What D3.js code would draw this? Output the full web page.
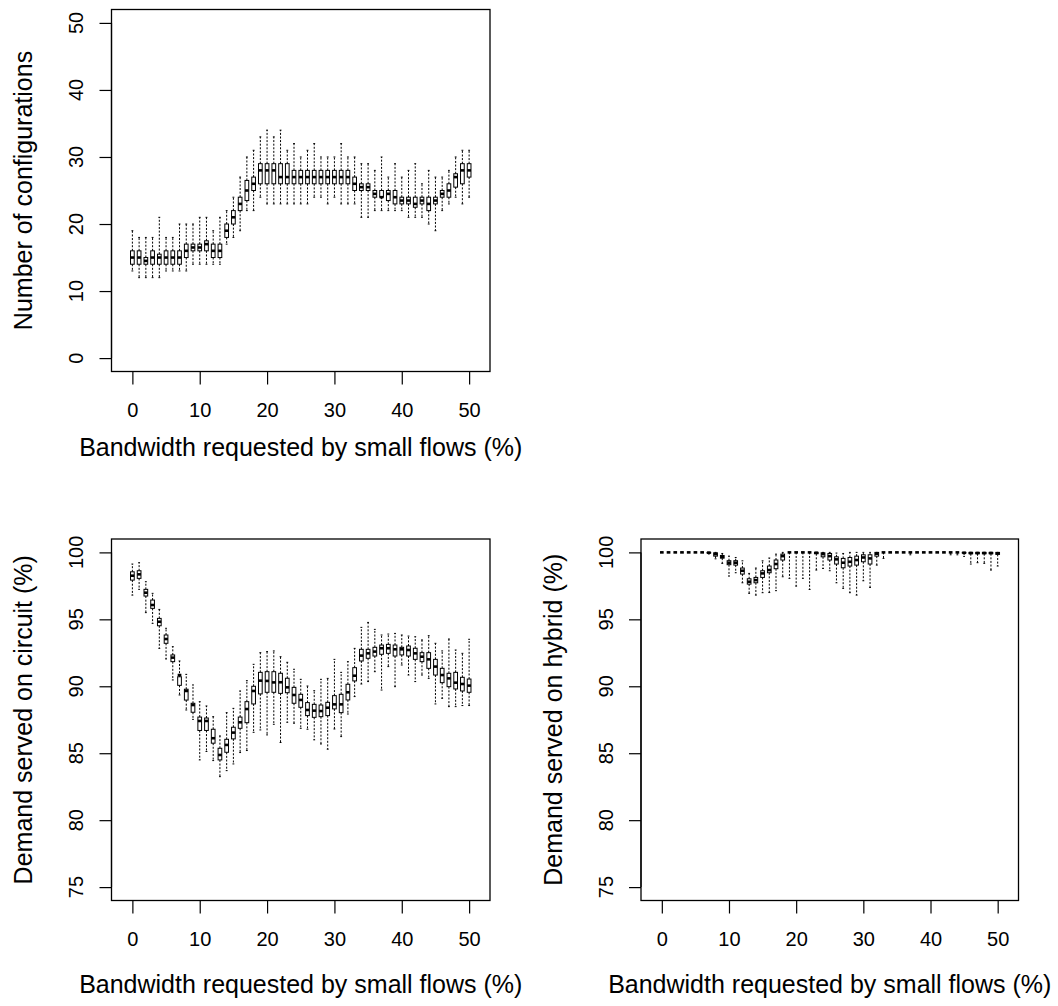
<!DOCTYPE html>
<html>
<head>
<meta charset="utf-8">
<script src="https://cdn.jsdelivr.net/npm/d3@7"></script>
<style>
  html, body { margin: 0; padding: 0; background: #fff; }
  svg { display: block; }
  text { font-family: "Liberation Sans", Arial, Helvetica, sans-serif; fill: #000; }
</style>
</head>
<body>
<svg id="chart" width="1058" height="1006"></svg>
<script>
// ---------- DATA ----------
const bandwidth = [0,1,2,3,4,5,6,7,8,9,10,11,12,13,14,15,16,17,18,19,20,21,22,23,24,25,26,27,28,29,30,31,32,33,34,35,36,37,38,39,40,41,42,43,44,45,46,47,48,49,50];
const xTickLabels = [0, 10, 20, 30, 40, 50];

// Panel 1: Number of configurations
const configMin = [13,12,12,12,12,13,13,13,13,14,14,14,14,14,17,18,19,22,22,24,23,23,23,23,23,23,23,24,24,23,24,23,23,23,21,21,22,22,22,22,22,21,21,21,20,19,22,23,24,23,24];
const configQ1  = [14,14,14,14,14,14,14,14,15,16,16,16,15,15,18,20,22,23.5,25,26,26,26,26,26,26,26,26,26,26,26,26,26,26,25,25,25,24,24,23.5,23,23,23,22.5,23,22,23,24,24,25.5,26,27];
const configMed = [15,15,14.5,15,15,15,15,15,16,16.5,16.5,17,16,16,19,21,23,25,26,28,28,28,27,27,27,27,27,27,27,27,27,27,27,26,25.5,25.5,24.5,24,24.5,24,23.5,23.5,23,23.5,23,23.5,24.5,25,27,28,28];
const configQ3  = [16,16,15,16,15.5,16,16,16,17,17,17,17.5,17,17,20,22,24,26.5,27,29,29,29,29,29,28,28,28,28,28,28,28,28,28,27,26,26,25,25,25,25,24,24,24,24,24,24,25,26,27.5,29,29];
const configMax = [19,18,18,18,21,18,18,20,20,20,21,21,19,21,22,24,27,30,31,33,34,33,34,31,32,30,31,32,30,30,30,32,30,30,29,29,28,30,27,29,27,28,29,26,28,27,27,28,30,31,31];
const configTicks = [0, 10, 20, 30, 40, 50];

// Panel 2: Demand served on circuit (%)
const circuitMin = [96.81,97.24,95.50,94.70,92.83,92.04,90.47,89.35,88.23,87.53,84.50,85.13,84.45,83.25,83.70,84.20,85.05,85.20,86.56,86.74,86.37,87.16,85.80,87.31,87.24,86.86,86.79,86.00,85.69,85.30,86.81,86.24,87.93,89.23,90.17,90.35,91.09,89.72,91.47,89.97,91.59,90.84,90.35,90.84,90.59,88.68,89.10,88.48,88.48,88.56,88.56];
const circuitQ1  = [97.93,98.06,96.74,95.82,94.52,93.21,91.84,90.07,88.97,88.06,86.70,86.70,85.75,84.50,85.07,86.07,86.86,87.28,88.68,89.43,89.55,89.55,89.47,89.52,88.73,88.43,87.81,87.68,87.73,87.81,88.31,88.03,88.98,90.40,91.89,92.09,92.26,92.39,92.46,92.26,92.34,92.26,92.01,91.84,91.34,90.84,90.27,89.97,89.80,89.65,89.55];
const circuitMed = [98.26,98.36,96.99,96.07,94.82,93.53,92.14,90.84,89.65,88.60,87.41,87.41,86.12,84.87,85.62,86.54,87.31,88.30,89.65,90.42,90.40,90.29,90.30,89.92,89.35,88.98,88.23,88.18,88.15,88.40,88.65,88.65,89.55,90.79,92.29,92.46,92.59,92.84,92.84,92.76,92.76,92.71,92.46,92.21,92.01,91.47,90.84,90.59,90.27,90.17,90.05];
const circuitQ3  = [98.55,98.63,97.24,96.44,95.07,93.83,92.34,90.71,89.78,88.73,87.70,87.63,86.79,85.37,86.04,86.94,87.70,88.85,90.00,91.04,91.09,91.09,90.97,90.60,89.92,89.40,88.78,88.65,88.60,88.80,89.30,89.40,90.15,91.39,92.76,92.76,92.91,93.08,93.13,93.08,92.91,93.01,92.84,92.51,92.51,92.01,91.34,90.97,91.04,90.67,90.54];
const circuitMax = [99.13,99.23,97.81,96.94,95.74,94.33,92.96,91.89,90.89,90.10,88.85,88.53,87.73,86.29,88.03,88.35,89.65,90.42,91.64,92.51,92.59,92.64,92.21,91.79,91.27,90.52,90.02,89.67,90.52,90.59,92.01,91.04,91.84,92.83,94.40,94.77,94.25,93.83,93.90,93.95,93.83,93.75,93.70,93.46,93.78,93.21,92.64,93.53,92.71,92.46,93.51];

// Panel 3: Demand served on hybrid (%)
const hybridMin = [100,100,100,100,100,100,100,99.88,99.52,99.18,98.23,98.48,97.73,96.94,96.81,96.99,97.00,97.14,98.18,98.06,97.48,98.06,97.23,98.68,98.80,98.63,97.73,97.31,96.99,96.81,97.88,97.38,99.05,99.55,100,100,100,99.82,100,100,100,100,100,99.82,99.82,99.70,99.13,99.23,99.18,98.68,98.98];
const hybridQ1  = [100,100,100,100,100,100,100,99.95,99.72,99.57,99.08,99.05,98.38,97.63,97.73,98.13,98.48,98.78,99.43,100,100,100,100,99.90,99.67,99.43,99.13,98.85,98.98,99.05,99.30,99.13,99.72,100,100,100,100,100,100,100,100,100,100,100,100,99.95,99.90,99.90,99.90,99.90,99.85];
const hybridMed = [100,100,100,100,100,100,100,99.98,99.87,99.67,99.23,99.23,98.63,97.81,97.93,98.43,98.68,99.13,99.72,100,100,100,100,99.97,99.87,99.72,99.48,99.23,99.30,99.43,99.62,99.55,99.90,100,100,100,100,100,100,100,100,100,100,100,100,99.97,99.95,99.95,99.95,99.95,99.93];
const hybridQ3  = [100,100,100,100,100,100,100,100,99.97,99.77,99.38,99.38,98.83,98.03,98.13,98.63,98.98,99.43,99.87,100,100,100,100,100,99.97,99.92,99.67,99.55,99.62,99.72,99.82,99.82,100,100,100,100,100,100,100,100,100,100,100,100,100,100,100,100,100,100,100];
const hybridMax = [100,100,100,100,100,100,100,100,100,99.92,99.72,99.62,99.37,98.43,98.83,99.37,99.58,99.87,100,100,100,100,100,100,100,100,99.95,99.92,100,100,100,100,100,100,100,100,100,100,100,100,100,100,100,100,100,100,100,100,100,100,100];
const demandTicks = [75, 80, 85, 90, 95, 100];

const xTitle = "Bandwidth requested by small flows (%)";

// ---------- LAYOUT ----------
const panels = [
  { left: 111.5, right: 490, top: 9.5, bottom: 371.5, yDomain: [-2, 52], ticks: configTicks,
    ylab: "Number of configurations", ylabX: 31.5, yTickX: 83, titleOff: 84,
    mins: configMin, q1s: configQ1, meds: configMed, q3s: configQ3, maxs: configMax },
  { left: 111.5, right: 490, top: 539, bottom: 900.5, yDomain: [74, 101], ticks: demandTicks,
    ylab: "Demand served on circuit (%)", ylabX: 31.5, yTickX: 83, titleOff: 92,
    mins: circuitMin, q1s: circuitQ1, meds: circuitMed, q3s: circuitQ3, maxs: circuitMax },
  { left: 641, right: 1018.5, top: 539, bottom: 900.5, yDomain: [74, 101], ticks: demandTicks,
    ylab: "Demand served on hybrid (%)", ylabX: 561.5, yTickX: 613, titleOff: 92,
    mins: hybridMin, q1s: hybridQ1, meds: hybridMed, q3s: hybridQ3, maxs: hybridMax }
];

const svg = d3.select("#chart");
const boxW = 0.55;   // in x units
const tickFont = 20, titleFont = 25;

panels.forEach(p => {
  const x = d3.scaleLinear().domain([-3.1, 53.1]).range([p.left, p.right]);
  const y = d3.scaleLinear().domain(p.yDomain).range([p.bottom, p.top]);
  const g = svg.append("g");

  const hw = (x(boxW) - x(0)) / 2;
  bandwidth.forEach((b, i) => {
    const cx = x(b);
    const gg = g.append("g");
    gg.append("line").attr("x1", cx).attr("x2", cx).attr("y1", y(p.q3s[i])).attr("y2", y(p.maxs[i]))
      .attr("stroke", "#000").attr("stroke-width", 1).attr("stroke-dasharray", "2,1.6");
    gg.append("line").attr("x1", cx).attr("x2", cx).attr("y1", y(p.q1s[i])).attr("y2", y(p.mins[i]))
      .attr("stroke", "#000").attr("stroke-width", 1).attr("stroke-dasharray", "2,1.6");
    gg.append("line").attr("x1", cx - hw / 2).attr("x2", cx + hw / 2).attr("y1", y(p.maxs[i])).attr("y2", y(p.maxs[i]))
      .attr("stroke", "#000").attr("stroke-width", 1);
    gg.append("line").attr("x1", cx - hw / 2).attr("x2", cx + hw / 2).attr("y1", y(p.mins[i])).attr("y2", y(p.mins[i]))
      .attr("stroke", "#000").attr("stroke-width", 1);
    gg.append("rect").attr("x", cx - hw).attr("width", 2 * hw)
      .attr("y", y(p.q3s[i])).attr("height", Math.max(0, y(p.q1s[i]) - y(p.q3s[i])))
      .attr("fill", "none").attr("stroke", "#000").attr("stroke-width", 1);
    gg.append("line").attr("x1", cx - hw).attr("x2", cx + hw).attr("y1", y(p.meds[i])).attr("y2", y(p.meds[i]))
      .attr("stroke", "#000").attr("stroke-width", 2.6);
  });

  g.append("rect").attr("x", p.left).attr("y", p.top).attr("width", p.right - p.left).attr("height", p.bottom - p.top)
    .attr("fill", "none").attr("stroke", "#000").attr("stroke-width", 1.3);

  const xAxis = d3.axisBottom(x).tickValues(xTickLabels).tickSize(13).tickPadding(0).tickFormat(d3.format("d"));
  const xa = g.append("g").attr("transform", `translate(0,${p.bottom})`).call(xAxis);
  xa.select(".domain").attr("d", `M${x(0)},0H${x(50)}`).attr("stroke-width", 1.2);
  xa.selectAll(".tick line").attr("stroke-width", 1.2);
  xa.selectAll("text").attr("font-size", tickFont).attr("dy", null).attr("y", 45.5)
    .attr("font-family", "Liberation Sans, Arial, sans-serif").attr("fill", "#000");

  const yAxis = d3.axisLeft(y).tickValues(p.ticks).tickSize(12).tickFormat(d3.format("d"));
  const ya = g.append("g").attr("transform", `translate(${p.left},0)`).call(yAxis);
  ya.select(".domain").attr("d", `M0,${y(p.ticks[0])}V${y(p.ticks[p.ticks.length - 1])}`).attr("stroke-width", 1.2);
  ya.selectAll(".tick line").attr("stroke-width", 1.2);
  ya.selectAll(".tick text").remove();
  p.ticks.forEach(t => {
    g.append("text").attr("transform", `translate(${p.yTickX},${y(t)}) rotate(-90)`)
      .attr("text-anchor", "middle").attr("font-size", tickFont).text(t);
  });

  g.append("text").attr("x", (p.left + p.right) / 2).attr("y", p.bottom + p.titleOff)
    .attr("text-anchor", "middle").attr("font-size", titleFont).text(xTitle);
  g.append("text").attr("transform", `translate(${p.ylabX},${(p.top + p.bottom) / 2}) rotate(-90)`)
    .attr("text-anchor", "middle").attr("font-size", titleFont).text(p.ylab);
});
</script>
</body>
</html>
